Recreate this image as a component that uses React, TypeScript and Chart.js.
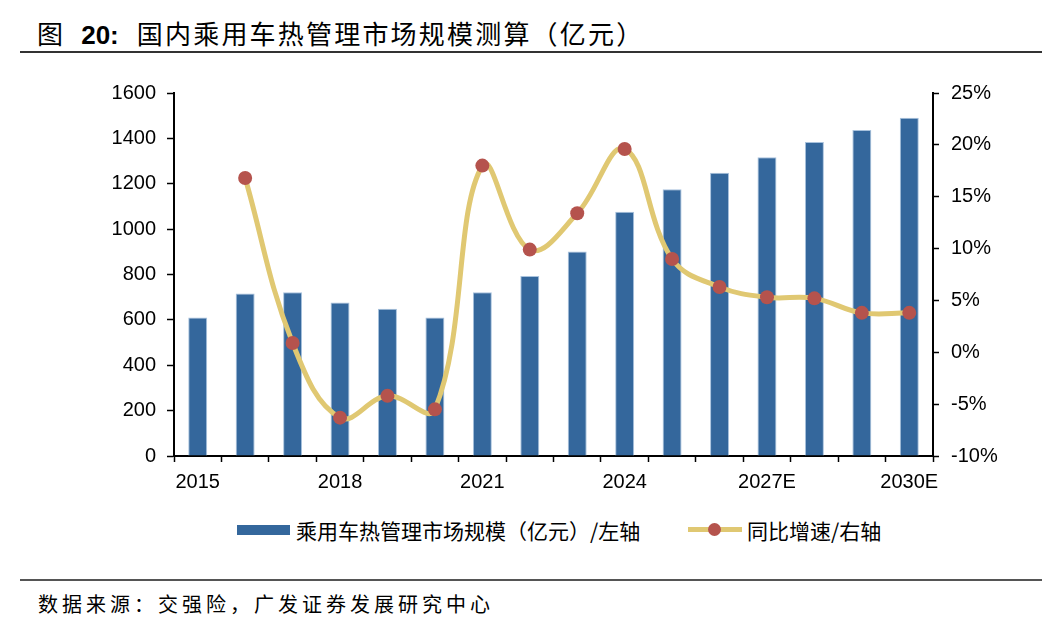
import React, { useEffect, useRef } from "react";
import { Chart, registerables } from "chart.js";
Chart.register(...registerables);

const categories = [
  "2015", "2016", "2017", "2018", "2019", "2020", "2021", "2022", "2023", "2024",
  "2025E", "2026E", "2027E", "2028E", "2029E", "2030E",
];
const marketSize = [610, 716, 722, 677, 649, 610, 722, 793, 901, 1077, 1176, 1249, 1317, 1384, 1437, 1491];
const yoyGrowth = [null, 16.8, 0.9, -6.3, -4.2, -5.5, 18.0, 9.9, 13.4, 19.6, 9.0, 6.3, 5.3, 5.2, 3.8, 3.8];
const shownTickEvery = 3;
const leftTicks = { min: 0, max: 1600, step: 200 };
const rightTicks = { min: -10, max: 25, step: 5 };

const BAR_COLOR = "#34679C";
const LINE_COLOR = "#E0C872";
const POINT_COLOR = "#B5534D";
const TICK_FONT = { family: "'Liberation Sans', Arial, sans-serif", size: 20 };

export default function App() {
  const ref = useRef<HTMLCanvasElement | null>(null);

  useEffect(() => {
    document.body.style.margin = "0";
    const canvas = ref.current!;
    const chart = new Chart(canvas, {
      type: "bar",
      data: {
        labels: categories,
        datasets: [
          {
            type: "line",
            label: "同比增速/右轴",
            data: yoyGrowth as any,
            yAxisID: "y1",
            borderColor: LINE_COLOR,
            borderWidth: 5,
            tension: 0.4,
            pointRadius: 7,
            pointHoverRadius: 7,
            pointBackgroundColor: POINT_COLOR,
            pointBorderColor: POINT_COLOR,
            pointBorderWidth: 0,
            order: 0,
          } as any,
          {
            type: "bar",
            label: "乘用车热管理市场规模（亿元）/左轴",
            data: marketSize,
            yAxisID: "y",
            backgroundColor: BAR_COLOR,
            borderColor: "#A8C2DD",
            borderWidth: { top: 1, left: 1, right: 1, bottom: 0 },
            categoryPercentage: 1,
            barPercentage: 0.4,
            order: 1,
          } as any,
        ],
      },
      options: {
        responsive: false,
        animation: false,
        layout: { padding: { top: 93, left: 0, right: 0, bottom: 0 } },
        plugins: { legend: { display: false }, tooltip: { enabled: false }, title: { display: false } },
        scales: {
          x: {
            offset: true,
            grid: { offset: true, drawOnChartArea: false, tickLength: 6, tickColor: "#000", tickWidth: 1.5 },
            border: { display: true, color: "#000", width: 2 },
            ticks: {
              autoSkip: false,
              maxRotation: 0,
              padding: 8,
              color: "#000",
              font: TICK_FONT,
              callback: (_v: any, i: number) => (i % shownTickEvery === 0 ? categories[i] : ""),
            },
            afterFit: (s: any) => { s.height = 44; },
          },
          y: {
            position: "left",
            min: leftTicks.min,
            max: leftTicks.max,
            grid: { drawOnChartArea: false, tickLength: 7, tickColor: "#000", tickWidth: 1.5 },
            border: { display: true, color: "#000", width: 2 },
            ticks: {
              stepSize: leftTicks.step,
              padding: 11,
              color: "#000",
              font: TICK_FONT,
              callback: (v: any) => `${v}`,
            },
            afterFit: (s: any) => { s.width = 174; },
          },
          y1: {
            position: "right",
            min: rightTicks.min,
            max: rightTicks.max,
            grid: { drawOnChartArea: false, tickLength: 6, tickColor: "#000", tickWidth: 1.5 },
            border: { display: true, color: "#000", width: 2 },
            ticks: {
              stepSize: rightTicks.step,
              padding: 12,
              color: "#000",
              font: TICK_FONT,
              callback: (v: any) => `${v}%`,
            },
            afterFit: (s: any) => { s.width = 1052 - 933; },
          },
        },
      },
    });
    return () => chart.destroy();
  }, []);

  const cjk = "'Noto Sans CJK SC', 'Noto Sans', sans-serif";
  return (
    <div style={{ position: "fixed", left: 0, top: 0, width: 1052, height: 634, background: "#fff", fontFamily: cjk, color: "#000" }}>
      <div style={{ position: "absolute", left: 37, top: 16, fontSize: 26, lineHeight: "34px", whiteSpace: "nowrap", letterSpacing: 2.2 }}>
        <span>图</span>
        <span style={{ fontFamily: "'Liberation Sans', Arial, sans-serif", fontWeight: "bold", marginLeft: 16, letterSpacing: 0 }}>20:</span>
        <span style={{ marginLeft: 18 }}>国内乘用车热管理市场规模测算（亿元）</span>
      </div>
      <div style={{ position: "absolute", left: 20, top: 51, width: 1022, height: 2, background: "#333" }} />
      <canvas ref={ref} width={1052} height={500} style={{ position: "absolute", left: 0, top: 0, width: 1052, height: 500 }} />
      <div style={{ position: "absolute", left: 237, top: 525, width: 53, height: 10, background: BAR_COLOR }} />
      <div style={{ position: "absolute", left: 296, top: 516, fontSize: 21, lineHeight: "28px", whiteSpace: "nowrap" }}>
        乘用车热管理市场规模（亿元）/左轴
      </div>
      <div style={{ position: "absolute", left: 688, top: 527, width: 54, height: 5, background: LINE_COLOR }} />
      <div style={{ position: "absolute", left: 708, top: 523, width: 13, height: 13, borderRadius: "50%", background: POINT_COLOR }} />
      <div style={{ position: "absolute", left: 747, top: 516, fontSize: 21, lineHeight: "28px", whiteSpace: "nowrap" }}>
        同比增速/右轴
      </div>
      <div style={{ position: "absolute", left: 20, top: 579, width: 1022, height: 2, background: "#555" }} />
      <div style={{ position: "absolute", left: 38, top: 590, fontSize: 20, lineHeight: "28px", whiteSpace: "nowrap", letterSpacing: 4 }}>
        数据来源：交强险，广发证券发展研究中心
      </div>
    </div>
  );
}
